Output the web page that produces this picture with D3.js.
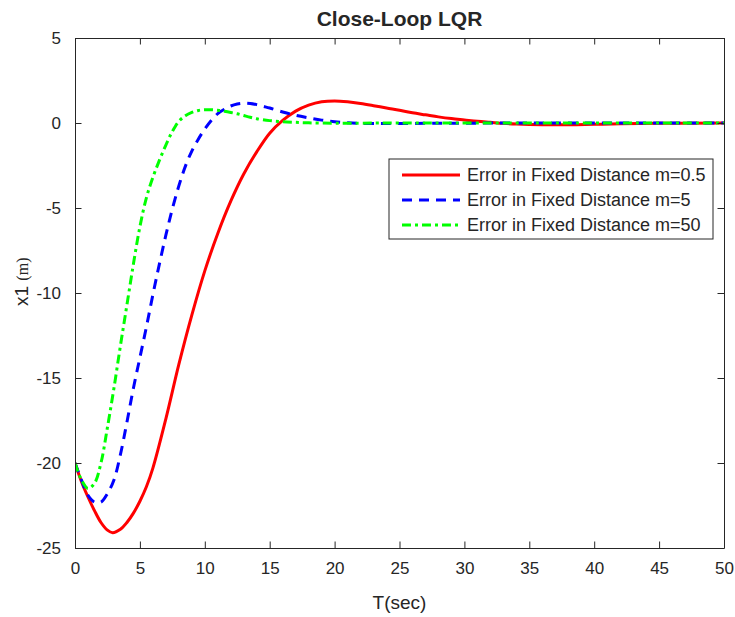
<!DOCTYPE html>
<html>
<head>
<meta charset="utf-8">
<script src="https://cdn.jsdelivr.net/npm/d3@7"></script>
<style>
  html, body { margin: 0; padding: 0; background: #fff; }
  svg { display: block; }
  text { font-family: "Liberation Sans", Arial, Helvetica, sans-serif; fill: #262626; }
</style>
</head>
<body>
<svg id="chart" width="735" height="617"></svg>
<script>
// ---------------- data ----------------
const title = "Close-Loop LQR";
const xLabel = "T(sec)";
const xTicks = [0, 5, 10, 15, 20, 25, 30, 35, 40, 45, 50];
const yTicks = [5, 0, -5, -10, -15, -20, -25];
const seriesNames = ["Error in Fixed Distance m=0.5", "Error in Fixed Distance m=5", "Error in Fixed Distance m=50"];

const tRed = [0, 0.5, 1, 1.5, 2, 2.5, 2.9, 3.5, 4, 4.5, 5, 5.5, 6, 7, 8, 9, 10, 11, 12, 13, 14, 15, 16, 17, 18, 19, 20, 21, 22, 23, 24, 25, 26, 27, 28, 29, 30, 31, 32, 33, 34, 36, 38, 40, 42, 45, 50];
const vRed = [-20.0, -21.1, -22.0, -22.8, -23.5, -23.95, -24.1, -23.9, -23.5, -22.95, -22.25, -21.4, -20.3, -17.4, -14.2, -11.3, -8.7, -6.5, -4.6, -3.0, -1.7, -0.6, 0.15, 0.7, 1.05, 1.25, 1.3, 1.25, 1.15, 1.02, 0.88, 0.75, 0.6, 0.48, 0.36, 0.26, 0.18, 0.1, 0.04, -0.02, -0.06, -0.1, -0.1, -0.08, -0.05, -0.02, 0.0];

const tBlue = [0, 0.5, 1, 1.5, 2, 2.5, 3, 3.5, 4, 4.5, 5, 5.5, 6, 6.5, 7, 7.5, 8, 8.5, 9, 9.5, 10, 10.5, 11, 11.5, 12, 12.5, 13, 13.5, 14, 14.5, 15, 16, 17, 18, 19, 20, 21, 22, 24, 27, 30, 35, 50];
const vBlue = [-20.0, -21.0, -21.9, -22.3, -22.3, -21.8, -21.0, -19.5, -17.6, -15.6, -13.8, -12.0, -10.1, -8.3, -6.6, -5.05, -3.7, -2.55, -1.65, -0.95, -0.35, 0.15, 0.55, 0.8, 1.0, 1.12, 1.17, 1.15, 1.08, 0.98, 0.88, 0.65, 0.45, 0.3, 0.17, 0.07, 0.01, -0.02, -0.03, -0.02, -0.01, 0.0, 0.0];

const tGreen = [0, 0.5, 1, 1.5, 2, 2.5, 3, 3.5, 4, 4.5, 5, 5.5, 6, 6.5, 7, 7.5, 8, 8.5, 9, 9.5, 10, 10.5, 11, 11.5, 12, 12.5, 13, 13.5, 14, 15, 16, 17, 18, 20, 25, 50];
const vGreen = [-20.0, -21.0, -21.5, -21.2, -20.0, -17.9, -15.6, -13.1, -10.7, -8.3, -6.1, -4.4, -3.2, -2.2, -1.3, -0.5, 0.1, 0.42, 0.62, 0.74, 0.78, 0.78, 0.75, 0.69, 0.62, 0.54, 0.44, 0.34, 0.25, 0.14, 0.08, 0.04, 0.01, -0.01, 0.0, 0.0];

// ---------------- layout ----------------
const svg = d3.select("#chart");
const L = 75, R = 724, T = 38, B = 548;
const axisColor = "#262626";

const x = d3.scaleLinear().domain([0, 50]).range([L, R]);
const y = d3.scaleLinear().domain([-25, 5]).range([B, T]);

svg.append("defs").append("clipPath").attr("id", "plotclip")
  .append("rect").attr("x", L).attr("y", T).attr("width", R - L).attr("height", B - T);

const series = [
  { name: seriesNames[0], t: tRed, v: vRed, color: "#ff0000", dash: null },
  { name: seriesNames[1], t: tBlue, v: vBlue, color: "#0000ff", dash: "10,7" },
  { name: seriesNames[2], t: tGreen, v: vGreen, color: "#00ff00", dash: "9,4,3,4" }
];

const line = d3.line()
  .x(d => x(d[0]))
  .y(d => y(d[1]))
  .curve(d3.curveCatmullRom.alpha(0.5));

const gLines = svg.append("g").attr("clip-path", "url(#plotclip)");
series.forEach(s => {
  const pts = s.t.map((t, i) => [t, s.v[i]]);
  gLines.append("path")
    .datum(pts)
    .attr("d", line)
    .attr("fill", "none")
    .attr("stroke", s.color)
    .attr("stroke-width", 3)
    .attr("stroke-dasharray", s.dash)
    .attr("stroke-linejoin", "round");
});

// ---------------- axes ----------------
const tickLen = 6.5;
const fmt = d => d3.format("d")(d).replace("−", "-");

const xAxisB = d3.axisBottom(x).tickValues(xTicks).tickSizeInner(-tickLen).tickSizeOuter(0).tickPadding(14).tickFormat(fmt);
const xAxisT = d3.axisTop(x).tickValues(xTicks).tickSizeInner(-tickLen).tickSizeOuter(0).tickFormat("");
const yAxisL = d3.axisLeft(y).tickValues(yTicks).tickSizeInner(-tickLen).tickSizeOuter(0).tickPadding(14).tickFormat(fmt);
const yAxisR = d3.axisRight(y).tickValues(yTicks).tickSizeInner(-tickLen).tickSizeOuter(0).tickFormat("");

function styleAxis(g) {
  g.select(".domain").attr("stroke", axisColor).attr("stroke-width", 1);
  g.selectAll(".tick line").attr("stroke", axisColor).attr("stroke-width", 1);
  g.selectAll(".tick text").attr("fill", axisColor)
    .style("font-family", '"Liberation Sans", Arial, sans-serif').style("font-size", "17px");
}

svg.append("g").attr("transform", `translate(0,${B})`).call(xAxisB).call(styleAxis);
svg.append("g").attr("transform", `translate(0,${T})`).call(xAxisT).call(styleAxis);
svg.append("g").attr("transform", `translate(${L},0)`).call(yAxisL).call(styleAxis);
svg.append("g").attr("transform", `translate(${R},0)`).call(yAxisR).call(styleAxis);

// ---------------- labels ----------------
svg.append("text")
  .attr("x", (L + R) / 2).attr("y", 26)
  .attr("text-anchor", "middle")
  .style("font-size", "21px").style("font-weight", "bold")
  .attr("fill", "#000")
  .text(title);

svg.append("text")
  .attr("x", (L + R) / 2).attr("y", 609)
  .attr("text-anchor", "middle")
  .style("font-size", "19px")
  .text(xLabel);

const yl = svg.append("text")
  .attr("transform", "translate(28,306) rotate(-90)")
  .attr("text-anchor", "start");
yl.append("tspan").style("font-size", "19px").text("x1 ");
yl.append("tspan").style("font-size", "16px").style("font-family", '"Liberation Serif", "Times New Roman", serif').text("(m)");

// ---------------- legend ----------------
const lg = svg.append("g");
lg.append("rect")
  .attr("x", 389).attr("y", 159).attr("width", 324).attr("height", 80)
  .attr("fill", "#fff").attr("stroke", axisColor).attr("stroke-width", 1);

series.forEach((s, i) => {
  const yy = 175 + i * 25;
  lg.append("line")
    .attr("x1", 402).attr("x2", 460).attr("y1", yy).attr("y2", yy)
    .attr("stroke", s.color).attr("stroke-width", 3)
    .attr("stroke-dasharray", s.dash);
  lg.append("text")
    .attr("x", 467).attr("y", yy + 6)
    .style("font-size", "18px")
    .attr("fill", "#000")
    .text(s.name);
});
</script>
</body>
</html>
